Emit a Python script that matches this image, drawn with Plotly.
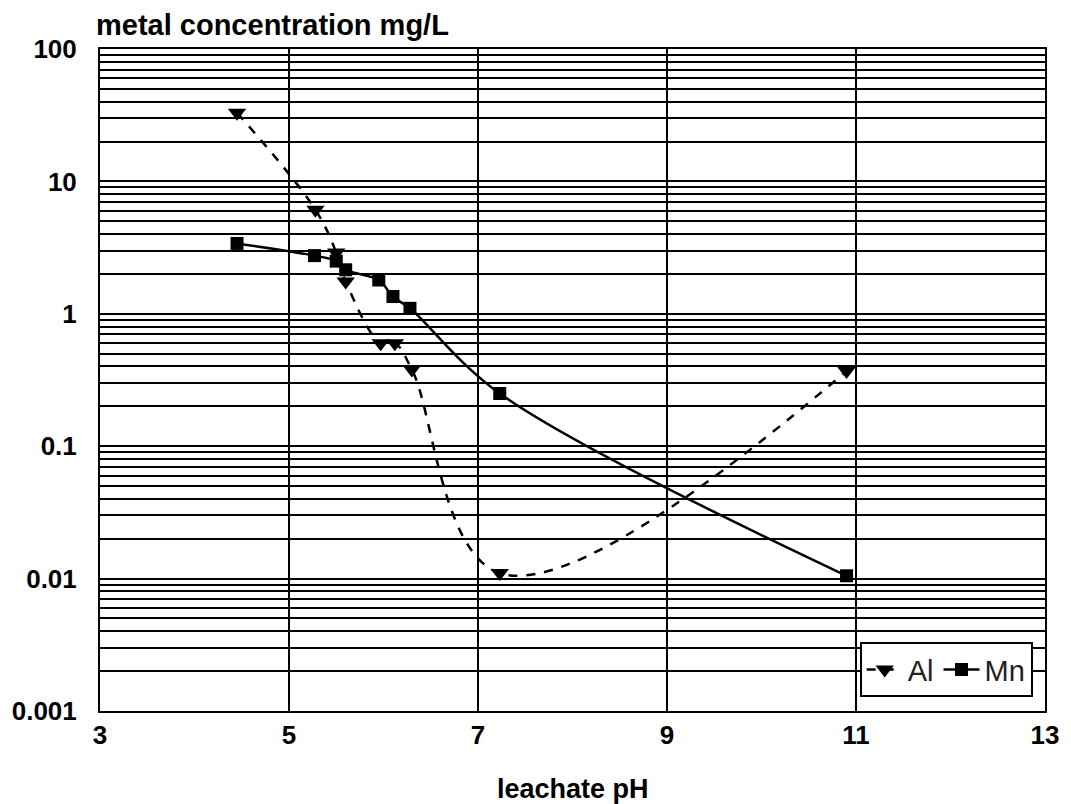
import plotly.graph_objects as go

# ---- data ----
al_ph = [4.45, 5.28, 5.50, 5.60, 5.97, 6.12, 6.30, 7.23, 10.90]
al_conc = [33.0, 6.1, 2.9, 1.75, 0.60, 0.60, 0.38, 0.011, 0.37]

mn_ph = [4.45, 5.27, 5.50, 5.60, 5.95, 6.10, 6.28, 7.23, 10.90]
mn_conc = [3.4, 2.75, 2.5, 2.15, 1.8, 1.35, 1.1, 0.25, 0.0105]

x_ticks = [3, 5, 7, 9, 11, 13]
y_ticks = [0.001, 0.01, 0.1, 1, 10, 100]
y_tick_labels = ["0.001", "0.01", "0.1", "1", "10", "100"]
y_minor = [m * 10 ** e for e in range(-3, 2) for m in range(2, 10)]

FONT = "Liberation Sans, Arial, sans-serif"

fig = go.Figure()
fig.add_trace(go.Scatter(
    x=al_ph, y=al_conc, name="Al", mode="lines+markers",
    line=dict(color="black", width=2.5, dash="dash", shape="spline", smoothing=1.1),
    marker=dict(symbol="triangle-down", size=16, color="black"),
))
fig.add_trace(go.Scatter(
    x=mn_ph, y=mn_conc, name="Mn", mode="lines+markers",
    line=dict(color="black", width=2.5, shape="spline", smoothing=1.0),
    marker=dict(symbol="square", size=13, color="black"),
))

fig.update_layout(
    width=1071, height=804,
    margin=dict(l=96, r=24, t=49, b=93),
    paper_bgcolor="white", plot_bgcolor="white",
    font=dict(family=FONT, color="black", size=26),
    showlegend=True,
    legend=dict(
        orientation="h", x=0.987, y=0.021, xanchor="right", yanchor="bottom",
        bgcolor="white", bordercolor="black", borderwidth=2,
        font=dict(family=FONT, size=29, color="#222"),
        itemwidth=36, tracegroupgap=0,
    ),
    xaxis=dict(
        range=[3, 13], tickvals=x_ticks, ticktext=[str(v) for v in x_ticks],
        showgrid=True, gridcolor="black", gridwidth=1.5,
        showline=True, linecolor="black", linewidth=2, mirror=True,
        ticks="", ticklabelstandoff=0, zeroline=False,
        tickfont=dict(family=FONT, size=26, weight="bold"),
    ),
    yaxis=dict(
        type="log", range=[-3, 2], tickvals=y_ticks, ticktext=y_tick_labels,
        showgrid=True, gridcolor="black", gridwidth=2,
        minor=dict(tickvals=y_minor, showgrid=True, gridcolor="black", gridwidth=2, ticks=""),
        showline=True, linecolor="black", linewidth=2, mirror=True,
        ticks="", ticklabelstandoff=16, zeroline=False,
        tickfont=dict(family=FONT, size=26, weight="bold"),
    ),
)

fig.add_annotation(
    text="metal concentration mg/L", xref="paper", yref="paper",
    x=-0.006, y=1.036, xanchor="left", yanchor="middle", showarrow=False,
    font=dict(family=FONT, size=29, weight="bold"),
)
fig.add_annotation(
    text="leachate pH", xref="paper", yref="paper",
    x=0.5, y=-0.118, xanchor="center", yanchor="middle", showarrow=False,
    font=dict(family=FONT, size=27, weight="bold"),
)

fig.write_html("out.html")
